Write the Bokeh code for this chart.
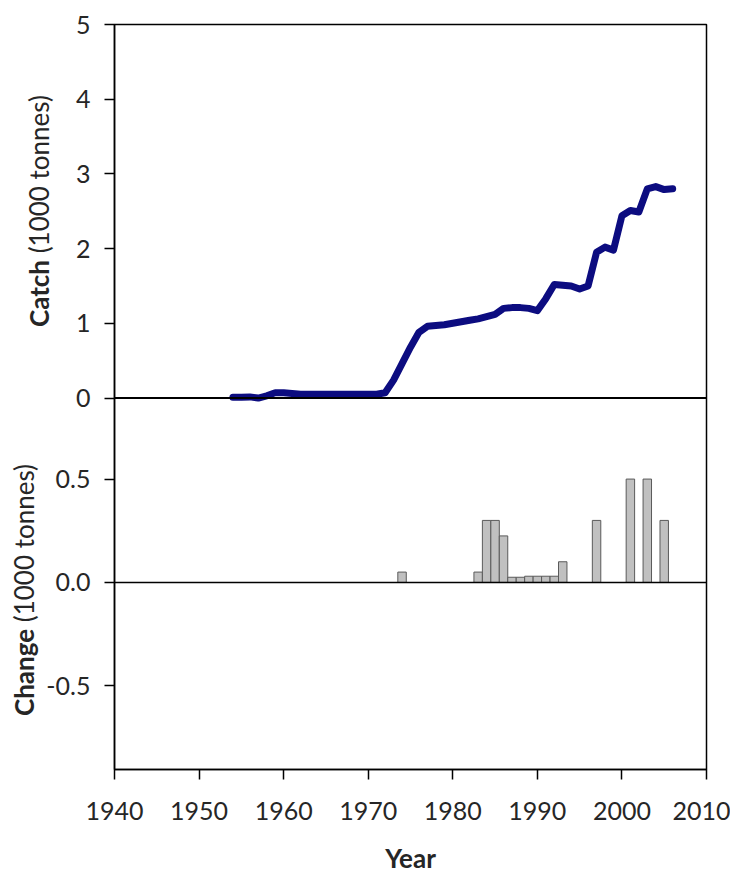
from bokeh.plotting import figure
from bokeh.layouts import row
from bokeh.models import Range1d, FixedTicker, Span, Div
from bokeh.embed import file_html
from bokeh.resources import INLINE

# ---- data ----
years = list(range(1954, 2007))
catch = [0.01, 0.01, 0.015, 0.0, 0.03, 0.07, 0.07, 0.06, 0.05, 0.05,
         0.05, 0.05, 0.05, 0.05, 0.05, 0.05, 0.05, 0.05, 0.07, 0.24,
         0.46, 0.68, 0.88, 0.96, 0.97, 0.98, 1.00, 1.02, 1.04, 1.06,
         1.09, 1.12, 1.20, 1.21, 1.21, 1.20, 1.17, 1.33, 1.52, 1.51,
         1.50, 1.46, 1.50, 1.95, 2.02, 1.98, 2.44, 2.51, 2.49, 2.80,
         2.83, 2.79, 2.80]

bar_years = [1974, 1983, 1984, 1985, 1986, 1987, 1988, 1989, 1990, 1991,
             1992, 1993, 1997, 2001, 2003, 2005]
changes = [0.05, 0.05, 0.30, 0.30, 0.225, 0.025, 0.025, 0.03, 0.03, 0.03,
           0.03, 0.10, 0.30, 0.50, 0.50, 0.30]

catch_ticks = [0, 1, 2, 3, 4, 5]
catch_tick_labels = ["0", "1", "2", "3", "4", "5"]
change_ticks = [-0.5, 0.0, 0.5]
change_tick_labels = ["-0.5", "0.0", "0.5"]
x_ticks = [1940, 1950, 1960, 1970, 1980, 1990, 2000, 2010]

FONT = "Lato"
TXT = "#262626"
H = 876
DIV_W = 30

# primary y range = Change panel (bottom), extra range = Catch panel (top)
p = figure(width=730 - DIV_W, height=H,
           x_range=Range1d(1940, 2010), y_range=Range1d(-0.905, 2.699),
           output_backend="svg", toolbar_location=None,
           min_border_left=114 - DIV_W, min_border_right=24,
           min_border_top=24, min_border_bottom=107)
p.extra_y_ranges = {"catch": Range1d(-4.973, 5.0)}
p.grid.visible = False
p.outline_line_color = "black"
p.outline_line_width = 1.5
p.background_fill_color = "white"
p.border_fill_alpha = 0

cr = p.extra_y_ranges["catch"]
yr = p.y_range


def to_primary(v):
    return yr.start + (v - cr.start) * (yr.end - yr.start) / (cr.end - cr.start)


ticks = list(change_ticks) + [to_primary(v) for v in catch_ticks]
labels = list(change_tick_labels) + list(catch_tick_labels)

yax = p.yaxis[0]
yax.ticker = FixedTicker(ticks=ticks)
yax.major_label_overrides = {t: l for t, l in zip(ticks, labels)}
yax.minor_tick_line_color = None
yax.major_tick_out = 10
yax.major_tick_in = 0
yax.major_tick_line_color = "black"
yax.major_tick_line_width = 1.5
yax.axis_line_color = "black"
yax.axis_line_width = 1.5
yax.major_label_text_font = FONT
yax.major_label_text_font_size = "25px"
yax.major_label_text_color = TXT
yax.major_label_standoff = 14

xax = p.xaxis[0]
xax.ticker = FixedTicker(ticks=x_ticks)
xax.minor_tick_line_color = None
xax.major_tick_out = 10
xax.major_tick_in = 0
xax.major_tick_line_color = "black"
xax.major_tick_line_width = 1.5
xax.axis_line_color = "black"
xax.axis_line_width = 1.5
xax.major_label_text_font = FONT
xax.major_label_text_font_size = "25px"
xax.major_label_text_color = TXT
xax.major_label_standoff = 22
xax.axis_label = "Year"
xax.axis_label_text_font = FONT
xax.axis_label_text_font_style = "bold"
xax.axis_label_text_font_size = "26px"
xax.axis_label_text_color = TXT
xax.axis_label_standoff = 19

# bars (change)
p.vbar(x=bar_years, top=changes, bottom=0, width=1.0,
       fill_color="#c0c0c0", line_color="#5a5a5a", line_width=1)

# catch line
p.line(years, catch, y_range_name="catch", line_width=7, line_color="#0c0c80",
       line_join="round", line_cap="round")

# panel separator (catch = 0) and zero line of the change panel
p.add_layout(Span(location=0, dimension="width", y_range_name="catch",
                  line_color="black", line_width=2))
p.add_layout(Span(location=0, dimension="width",
                  line_color="black", line_width=1.5))

# y axis titles (bold first word) as real HTML text beside the figure
style = ("position:absolute;transform:translate(-50%,-50%) rotate(-90deg);"
         "white-space:nowrap;font-family:Lato;font-size:26px;line-height:30px;"
         "color:" + TXT + ";")
html = (
    f'<div style="position:relative;width:{DIV_W}px;height:{H}px;overflow:visible;">'
    f'<div style="{style}left:39px;top:211px;"><b>Catch</b> (1000 tonnes)</div>'
    f'<div style="{style}left:24px;top:590px;"><b>Change</b> (1000 tonnes)</div>'
    '</div>'
)
div = Div(text=html, width=DIV_W, height=H, margin=0,
          styles={"overflow": "visible"})

layout = row(div, p, spacing=0)
open("out.html", "w").write(file_html(layout, INLINE))
